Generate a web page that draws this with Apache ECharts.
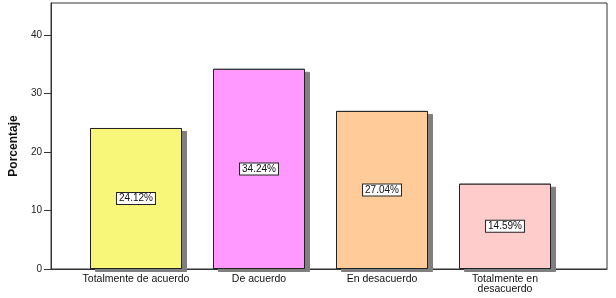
<!DOCTYPE html>
<html><head><meta charset="utf-8">
<script src="https://cdn.jsdelivr.net/npm/echarts@6/dist/echarts.min.js"></script>
<style>html,body{margin:0;padding:0;background:#fff}#c{width:616px;height:298px}</style>
</head><body><div id="c"></div>
<script>
const categories = ['Totalmente de acuerdo', 'De acuerdo', 'En desacuerdo', 'Totalmente en\ndesacuerdo'];
const values = [24.12, 34.24, 27.04, 14.59];
const barColors = ['#f8f77a', '#ff99ff', '#ffcc99', '#ffcccc'];
const yTicks = [0, 10, 20, 30, 40];
const yName = 'Porcentaje';

const chart = echarts.init(document.getElementById('c'), null, {renderer: 'canvas'});
const yMax = 45.5;
const font = 'Liberation Sans, Arial';
chart.setOption({
  animation: false,
  backgroundColor: '#fff',
  grid: [
    {left: 47, right: 9, top: 3, bottom: 29, show: true, borderColor: '#333', borderWidth: 1, backgroundColor: 'transparent'},
    {left: 74.5, right: 49.5, top: 3, bottom: 29}
  ],
  xAxis: [
    {gridIndex: 0, type: 'value', min: 0, max: 1, show: true,
     axisLine: {show: true, onZero: false, lineStyle: {color: '#333', width: 1}},
     axisTick: {show: false}, axisLabel: {show: false}, splitLine: {show: false}},
    {gridIndex: 1, type: 'category', data: categories,
     axisLine: {show: false}, axisTick: {show: false},
     axisLabel: {color: '#111', fontSize: 10.5, fontFamily: font, margin: 5, lineHeight: 10, interval: 0}}
  ],
  yAxis: [
    {gridIndex: 0, type: 'value', min: 0, max: yMax, interval: 10,
     name: yName, nameLocation: 'middle', nameGap: 30, nameRotate: 90,
     nameTextStyle: {fontSize: 12, fontWeight: 'bold', color: '#111', fontFamily: 'Liberation Sans Narrow, Liberation Sans, Arial', padding: [0, 20, 0, 0]},
     axisLine: {show: true, lineStyle: {color: '#333', width: 1}},
     axisTick: {show: true, length: 7, customValues: yTicks, lineStyle: {color: '#333'}},
     axisLabel: {color: '#222', fontSize: 10, fontFamily: font, margin: 9, customValues: yTicks},
     splitLine: {show: false}},
    {gridIndex: 1, type: 'value', min: 0, max: yMax, show: false}
  ],
  series: [{
    type: 'bar', xAxisIndex: 1, yAxisIndex: 1, barWidth: 92, z: 1, silent: true,
    data: values.map((v, i) => ({value: v, itemStyle: {color: barColors[i]}})),
    itemStyle: {borderColor: '#222', borderWidth: 1, shadowColor: '#7f7f7f', shadowBlur: 0, shadowOffsetX: 5, shadowOffsetY: 3}
  }, {
    type: 'bar', xAxisIndex: 1, yAxisIndex: 1, barWidth: 92, barGap: '-100%', z: 2,
    data: values.map((v, i) => ({value: v, itemStyle: {color: barColors[i]}})),
    itemStyle: {borderColor: '#222', borderWidth: 1},
    label: {show: true, position: 'inside', formatter: p => p.value.toFixed(2) + '%',
      color: '#111', fontSize: 10, fontFamily: font,
      backgroundColor: '#fff', borderColor: '#222', borderWidth: 1, padding: [1, 2, 0, 2]}
  }]
});
</script></body></html>
